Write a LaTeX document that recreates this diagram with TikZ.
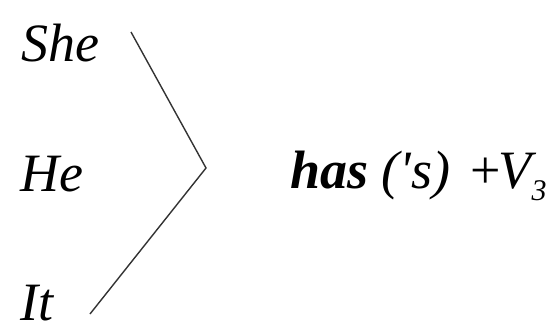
\documentclass[tikz,border=0pt]{standalone}
\usepackage{fontspec}
\setmainfont{Liberation Serif}
\usetikzlibrary{positioning}

\tikzset{
    pron/.style={anchor=base west, inner sep=0pt, text depth=0pt, font=\fontsize{54}{60}\selectfont\itshape},
    rule/.style={anchor=base west, inner sep=0pt, font=\fontsize{54}{60}\selectfont\itshape},
    brace/.style={line width=1.4pt, draw=black!80}
}
\newcommand{\subidx}[1]{\raisebox{-0.22em}{\fontsize{30}{32}\selectfont #1}}

\begin{document}
\begin{tikzpicture}[x=1pt, y=-1pt]
    \useasboundingbox (0,0) rectangle (549,326);

    % =========================================================
    % Pronomi soggetto
    % =========================================================
    \node[pron] (she) at (21, 62) {She};
    \node[pron] (he)  at (20, 191) {He};
    \node[pron] (it)  at (20, 320) {It};

    % Parentesi angolare
    \coordinate (top) at (131, 32);
    \coordinate (tip) at (206, 168);
    \coordinate (bot) at (90, 314);
    \draw[brace] (top) -- (tip) -- (bot);

    % Regola
    \node[rule] (has) at (290, 189)
        {\textbf{has} (\textquotesingle s)\hspace{20pt}{\upshape +}\kern-2pt V\subidx{3}};
\end{tikzpicture}
\end{document}
